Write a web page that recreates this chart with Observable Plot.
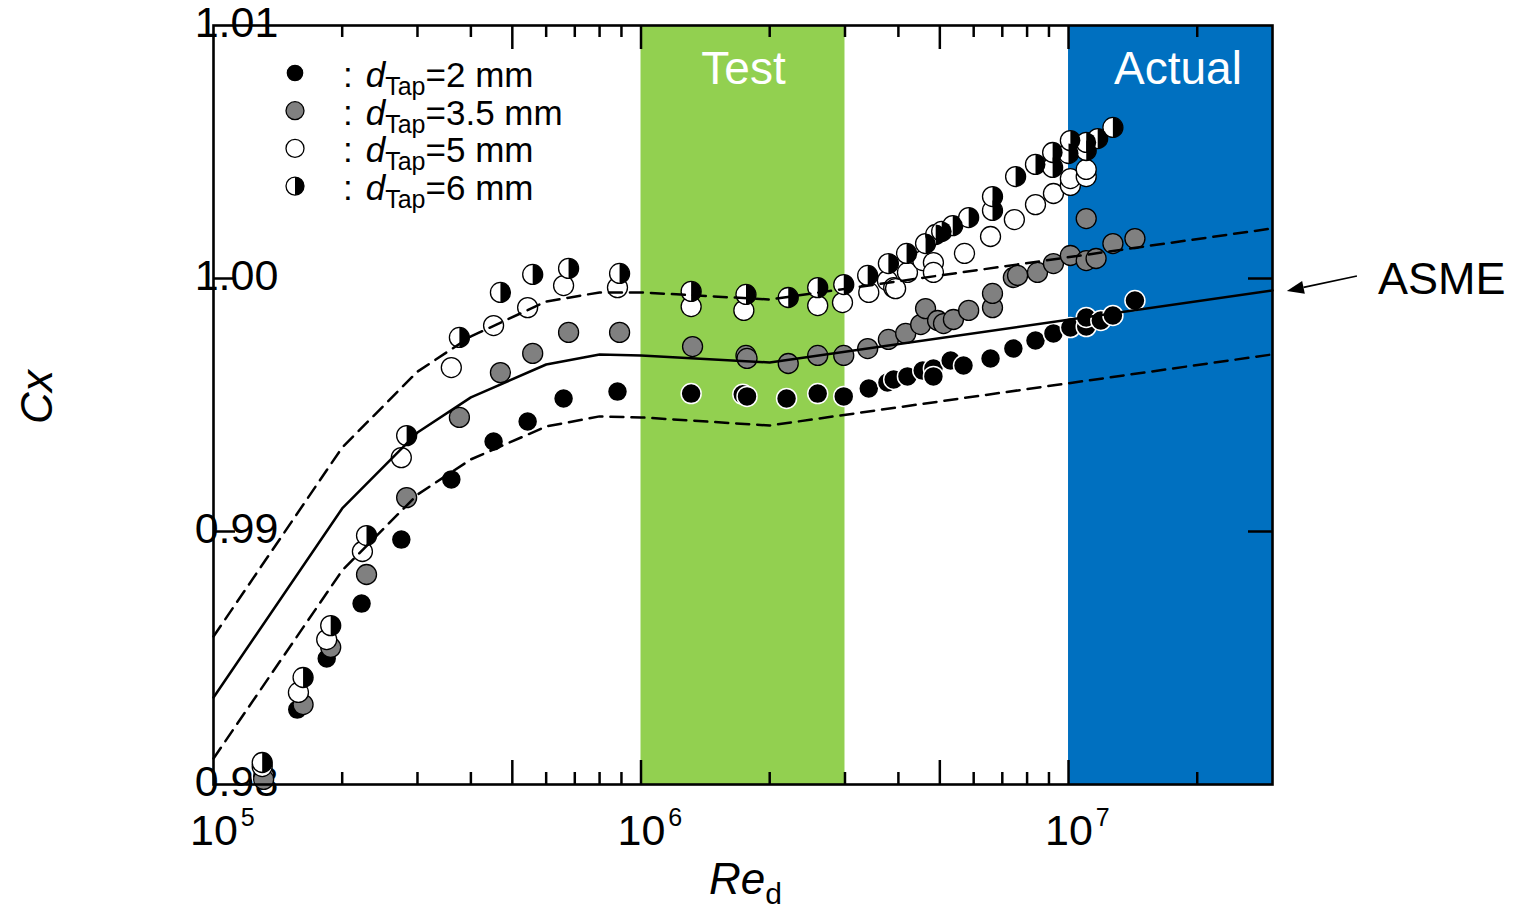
<!DOCTYPE html>
<html><head><meta charset="utf-8">
<script src="https://cdn.jsdelivr.net/npm/d3@7"></script>
<script src="https://cdn.jsdelivr.net/npm/@observablehq/plot@0.6"></script>
<style>
body{margin:0;background:#fff;}
#chart svg{display:block;}
</style>
</head><body><div id="chart"></div>
<script>
// ---------- data ----------
const asmeRe    = [1e5, 2e5, 3e5, 4e5, 6e5, 8e5, 1e6, 2e6, 3e7];
const asmeCx    = [0.98344, 0.99091, 0.99391, 0.99530, 0.99660, 0.99700, 0.99696, 0.99668, 0.99953];
const asmeUpper = [0.98585, 0.99332, 0.99632, 0.99771, 0.99909, 0.99945, 0.99945, 0.99917, 1.00198];
const asmeLower = [0.98103, 0.98846, 0.99146, 0.99285, 0.99415, 0.99455, 0.99451, 0.99419, 0.99700];

const seriesLabels = ["2 mm", "3.5 mm", "5 mm", "6 mm"];

const tap2Re = [1.30e5,1.57e5,1.84e5,2.22e5,2.75e5,3.60e5,4.52e5,5.43e5,6.59e5,8.81e5,1.31e6,1.73e6,1.77e6,2.19e6,2.59e6,2.98e6,3.41e6,3.77e6,3.90e6,4.20e6,4.56e6,4.83e6,4.83e6,5.30e6,5.68e6,6.57e6,7.43e6,8.37e6,9.22e6,1.01e7,1.10e7,1.10e7,1.19e7,1.27e7,1.43e7];
const tap2Cx = [0.98032,0.98296,0.98498,0.98715,0.98968,0.99206,0.99356,0.99435,0.99526,0.99553,0.99545,0.99542,0.99534,0.99526,0.99545,0.99534,0.99565,0.99589,0.99601,0.99613,0.99636,0.99644,0.99613,0.99676,0.99656,0.99684,0.99723,0.99755,0.99783,0.99806,0.99810,0.99846,0.99834,0.99854,0.99913];

const tap35Re = [1.31e5,1.62e5,1.88e5,2.28e5,2.83e5,3.76e5,4.69e5,5.58e5,6.77e5,8.91e5,1.32e6,1.76e6,1.77e6,2.21e6,2.59e6,2.98e6,3.39e6,3.79e6,4.16e6,4.51e6,4.63e6,4.94e6,5.10e6,5.38e6,5.84e6,6.64e6,6.64e6,7.43e6,7.60e6,8.46e6,9.22e6,1.01e7,1.10e7,1.16e7,1.10e7,1.27e7,1.43e7];
const tap35Cx = [0.98020,0.98316,0.98542,0.98830,0.99134,0.99451,0.99628,0.99704,0.99787,0.99787,0.99731,0.99696,0.99684,0.99664,0.99696,0.99696,0.99723,0.99759,0.99783,0.99818,0.99881,0.99834,0.99822,0.99838,0.99874,0.99885,0.99941,1.00004,1.00012,1.00024,1.00059,1.00091,1.00071,1.00079,1.00237,1.00138,1.00158];

const tap5Re = [1.30e5,1.58e5,1.84e5,2.23e5,2.75e5,3.60e5,4.52e5,5.43e5,6.59e5,8.81e5,1.31e6,1.74e6,2.59e6,2.96e6,3.41e6,3.77e6,3.90e6,3.94e6,4.20e6,4.56e6,4.83e6,4.83e6,5.71e6,6.57e6,7.47e6,8.37e6,9.22e6,1.01e7,1.01e7,1.10e7,1.10e7];
const tap5Cx = [0.98071,0.98364,0.98573,0.98921,0.99292,0.99648,0.99814,0.99885,0.99972,0.99964,0.99889,0.99874,0.99893,0.99905,0.99945,0.99992,0.99964,0.99960,1.00024,1.00071,1.00063,1.00024,1.00099,1.00166,1.00233,1.00292,1.00336,1.00368,1.00395,1.00403,1.00431];

const tap6Re = [1.30e5,1.62e5,1.88e5,2.28e5,2.83e5,3.76e5,4.69e5,5.58e5,6.77e5,8.91e5,1.31e6,1.76e6,2.21e6,2.59e6,2.98e6,3.39e6,3.79e6,4.18e6,4.63e6,4.89e6,5.05e6,5.36e6,5.84e6,6.64e6,6.64e6,7.52e6,8.37e6,9.18e6,9.18e6,1.00e7,1.01e7,1.10e7,1.10e7,1.17e7,1.27e7];
const tap6Cx = [0.98087,0.98423,0.98628,0.98984,0.99379,0.99767,0.99945,1.00016,1.00040,1.00020,0.99949,0.99937,0.99925,0.99964,0.99976,1.00012,1.00059,1.00099,1.00138,1.00174,1.00186,1.00209,1.00241,1.00269,1.00324,1.00403,1.00451,1.00439,1.00498,1.00494,1.00545,1.00506,1.00538,1.00553,1.00597];

const bandNames = ["Test", "Actual"];
const bandStart = [1e6, 1e7];
const bandEnd   = [3e6, 3e7];

const xDomain = [1e5, 3e7];
const yDomain = [0.98, 1.01];
const xMajorTicks = [1e5, 1e6, 1e7];
const xMajorExp = ["5", "6", "7"];
const xMinorTicks = [2e5,3e5,4e5,6e5,7e5,8e5,9e5,2e6,3e6,4e6,6e6,7e6,8e6,9e6,2e7];
const xMidTicks = [5e5, 1e6, 5e6, 1e7];
const yTicks = [0.98, 0.99, 1.00, 1.01];
const yTickLabels = ["0.98", "0.99", "1.00", "1.01"];
const yInnerTicks = [0.99, 1.00];

const asmeLabel = "ASME";
const asmeLabelAt = [5.31e7, 1.0000];
const asmeArrowFrom = [4.74e7, 1.00008];
const asmeArrowTo = [3.25e7, 0.99949];

// ---------- layout / style ----------
const FONT = '"Liberation Sans", Arial, Helvetica, sans-serif';
const W = 1522, H = 908;
const mL = 213, mR = 250, mT = 25, mB = 124;
const plotW = W - mL - mR, plotH = H - mT - mB;
const bandColors = ["#92D050", "#0070C0"];

const rows = (re, cx) => re.map((r, i) => ({Re: r, Cx: cx[i]}));
const asmeRows = asmeRe.map((r, i) => ({Re: r, mid: asmeCx[i], up: asmeUpper[i], lo: asmeLower[i]}));
const bands = bandNames.map((n, i) => ({name: n, start: bandStart[i], end: bandEnd[i]}));

const halfRight = {
  draw(ctx, size) {
    const r = Math.sqrt(size / Math.PI);
    ctx.moveTo(0, -r);
    ctx.arc(0, 0, r, -Math.PI / 2, Math.PI / 2);
    ctx.closePath();
  }
};
const R = 10;

const tickW = 2.5;
const plot = Plot.plot({
  width: W, height: H,
  marginLeft: mL, marginRight: mR, marginTop: mT, marginBottom: mB,
  style: {background: "white", fontFamily: FONT, overflow: "visible"},
  x: {type: "log", domain: xDomain, axis: null},
  y: {domain: yDomain, axis: null},
  marks: [
    Plot.rect([bands[0]], {x1: "start", x2: "end", fill: bandColors[0]}),
    Plot.rect([bands[1]], {x1: "start", x2: "end", fill: bandColors[1]}),
    Plot.text(yTicks, {y: d => d, text: (d, i) => yTickLabels[i], frameAnchor: "left", dx: 23, dy: -2,
      textAnchor: "middle", lineAnchor: "middle", fontSize: 43, fill: "black"}),
    Plot.dot(rows(tap2Re, tap2Cx), {x: "Re", y: "Cx", r: R, fill: "black", stroke: "white", strokeWidth: 1.5}),
    Plot.dot(rows(tap35Re, tap35Cx), {x: "Re", y: "Cx", r: R, fill: "#808080", stroke: "black", strokeWidth: 1.3}),
    Plot.dot(rows(tap5Re, tap5Cx), {x: "Re", y: "Cx", r: R, fill: "white", stroke: "black", strokeWidth: 1.3}),
    Plot.dot(rows(tap6Re, tap6Cx), {x: "Re", y: "Cx", r: R, fill: "white", stroke: "black", strokeWidth: 1.3}),
    Plot.dot(rows(tap6Re, tap6Cx), {x: "Re", y: "Cx", r: R, symbol: halfRight, fill: "black"}),
    Plot.line(asmeRows, {x: "Re", y: "up", stroke: "black", strokeWidth: 2.5, strokeDasharray: "13,8"}),
    Plot.line(asmeRows, {x: "Re", y: "lo", stroke: "black", strokeWidth: 2.5, strokeDasharray: "13,8"}),
    Plot.line(asmeRows, {x: "Re", y: "mid", stroke: "black", strokeWidth: 2.5}),
    // inward ticks
    Plot.tickX(xMinorTicks, {x: d => d, stroke: "black", strokeWidth: tickW, insetTop: plotH - 12}),
    Plot.tickX(xMinorTicks, {x: d => d, stroke: "black", strokeWidth: tickW, insetBottom: plotH - 12}),
    Plot.tickX(xMidTicks, {x: d => d, stroke: "black", strokeWidth: tickW, insetTop: plotH - 24}),
    Plot.tickX(xMidTicks, {x: d => d, stroke: "black", strokeWidth: tickW, insetBottom: plotH - 24}),
    Plot.tickY(yInnerTicks, {y: d => d, stroke: "black", strokeWidth: tickW, insetRight: plotW - 22}),
    Plot.tickY(yInnerTicks, {y: d => d, stroke: "black", strokeWidth: tickW, insetLeft: plotW - 24}),
    Plot.frame({stroke: "black", strokeWidth: 2.6})
  ]
});
document.getElementById("chart").appendChild(plot);

// ---------- overlay text using Plot's scales ----------
const svg = d3.select(plot);
const sx = v => plot.scale("x").apply(v);
const sy = v => plot.scale("y").apply(v);
const xL = sx(xDomain[0]), xR = sx(xDomain[1]), yB = sy(yDomain[0]);

// x tick labels 10^n
xMajorTicks.forEach((v, i) => {
  const t = svg.append("text").attr("x", sx(v) - 23).attr("y", yB + 61)
    .attr("text-anchor", "start")
    .attr("font-family", FONT).attr("font-size", 43).attr("fill", "black");
  t.append("tspan").text("10");
  t.append("tspan").attr("dx", 3).attr("dy", -19).attr("font-size", 25).text(xMajorExp[i]);
});

// band labels
bands.forEach((b, i) => {
  svg.append("text").attr("x", sx(Math.sqrt(b.start * b.end)) + (i ? 8 : 1)).attr("y", 84)
    .attr("text-anchor", "middle").attr("font-family", FONT).attr("font-size", 46)
    .attr("fill", "white").text(b.name);
});

// axis titles
svg.append("text").attr("transform", `translate(52,397) rotate(-90)`)
  .attr("text-anchor", "middle").attr("font-family", FONT).attr("font-size", 44)
  .attr("font-style", "italic").attr("fill", "black").text("Cx");
const xt = svg.append("text").attr("x", (xL + xR) / 2 + 3).attr("y", 894)
  .attr("text-anchor", "middle").attr("font-family", FONT).attr("font-size", 44).attr("fill", "black");
xt.append("tspan").attr("font-style", "italic").text("Re");
xt.append("tspan").attr("dy", 10).attr("font-size", 30).text("d");

// ASME annotation
const ax1 = sx(asmeArrowFrom[0]), ay1 = sy(asmeArrowFrom[1]);
const ax2 = sx(asmeArrowTo[0]), ay2 = sy(asmeArrowTo[1]);
const ang = Math.atan2(ay2 - ay1, ax2 - ax1);
const hl = 17, hw = 6.5;
const bx = ax2 - hl * Math.cos(ang), by = ay2 - hl * Math.sin(ang);
svg.append("line").attr("x1", ax1).attr("y1", ay1).attr("x2", bx).attr("y2", by)
  .attr("stroke", "black").attr("stroke-width", 1.6);
svg.append("polygon").attr("points", [
  [ax2, ay2],
  [bx + hw * Math.sin(ang), by - hw * Math.cos(ang)],
  [bx - hw * Math.sin(ang), by + hw * Math.cos(ang)]
].map(p => p.join(",")).join(" ")).attr("fill", "black");
svg.append("text").attr("x", sx(asmeLabelAt[0])).attr("y", sy(asmeLabelAt[1]) + 16)
  .attr("text-anchor", "start")
  .attr("font-family", FONT).attr("font-size", 45).attr("fill", "black").text(asmeLabel);

// legend
const lg = svg.append("g").attr("font-family", FONT).attr("fill", "black").attr("text-anchor", "start");
const legendStyles = [
  {fill: "black", stroke: "white"},
  {fill: "#808080", stroke: "black"},
  {fill: "white", stroke: "black"},
  {fill: "white", stroke: "black", half: true}
];
seriesLabels.forEach((lab, i) => {
  const cy = 73 + i * 37.7, base = 87 + i * 37.7;
  const s = legendStyles[i];
  lg.append("circle").attr("cx", 295).attr("cy", cy).attr("r", 9)
    .attr("fill", s.fill).attr("stroke", s.stroke).attr("stroke-width", 1.3);
  if (s.half) {
    lg.append("path").attr("transform", `translate(295,${cy})`)
      .attr("d", d3.symbol(halfRight, 81 * Math.PI)()).attr("fill", "black");
  }
  const t = lg.append("text").attr("x", 343).attr("y", base).attr("font-size", 35).attr("text-anchor", "start");
  t.append("tspan").text(":");
  t.append("tspan").attr("dx", 13).attr("font-style", "italic").text("d");
  t.append("tspan").attr("dy", 8).attr("font-size", 25).text("Tap");
  t.append("tspan").attr("dy", -8).text("=" + lab);
});
</script>
</body></html>
